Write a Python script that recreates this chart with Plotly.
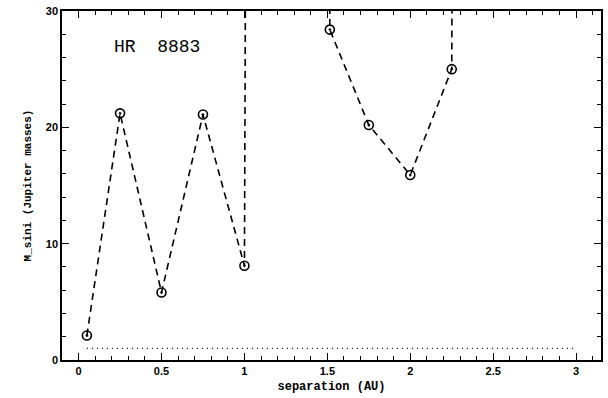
import plotly.graph_objects as go

# data (off-scale values drawn as near-vertical lines)
separation = [0.05, 0.25, 0.5, 0.75, 1.0, 1.25, 1.515, 1.75, 2.0, 2.25, 2.5]
msini = [2.1, 21.2, 5.8, 21.1, 8.1, 1000.0, 28.4, 20.2, 15.9, 25.0, 1000.0]
limit_x = [0.05, 3.0]
limit_y = [1.0, 1.0]
label = "HR\u00a0\u00a08883"

x_range = [-0.1, 3.15]
y_range = [0, 30]

fig = go.Figure()
# empty trace keeps the framed main axes in their own subplot
fig.add_trace(go.Scatter(x=[], y=[], xaxis="x", yaxis="y", showlegend=False, hoverinfo="skip"))
fig.add_trace(go.Scatter(
    x=limit_x, y=limit_y, mode="lines", xaxis="x2", yaxis="y2",
    line=dict(color="black", width=1.2, dash="1px,4px"),
    showlegend=False, hoverinfo="skip"))
fig.add_trace(go.Scatter(
    x=separation, y=msini, mode="lines+markers", xaxis="x2", yaxis="y2",
    line=dict(color="black", width=1.6, dash="7px,5px"),
    marker=dict(symbol="circle-open-dot", size=9, color="black",
                line=dict(width=1.6, color="black")),
    showlegend=False))

fig.add_annotation(x=0.2, y=26.9, xref="x", yref="y", text=label,
                   showarrow=False, xanchor="left", yanchor="middle",
                   font=dict(family="Liberation Mono", size=18, color="black"))

axis_common = dict(showline=True, linecolor="black", linewidth=1.5, mirror="allticks",
                   ticks="inside", tickcolor="black", tickwidth=1.2, ticklen=7,
                   showgrid=False, zeroline=False,
                   tickfont=dict(family="Liberation Sans", size=11, color="black", weight="bold"))

fig.update_layout(
    xaxis=dict(range=x_range, tick0=0, dtick=0.5,
               minor=dict(dtick=0.1, ticks="inside", ticklen=4),
               title=dict(text="separation (AU)", standoff=6,
                          font=dict(family="Liberation Mono", size=12, color="black", weight="bold")),
               **axis_common),
    yaxis=dict(range=y_range, tick0=0, dtick=10,
               minor=dict(dtick=2, ticks="inside", ticklen=4),
               title=dict(text="M_sini (Jupiter masses)", standoff=12,
                          font=dict(family="Liberation Mono", size=11, color="black", weight="bold")),
               **axis_common),
    xaxis2=dict(range=x_range, overlaying="x", anchor="y2", visible=False),
    yaxis2=dict(range=y_range, overlaying="y", anchor="x2", visible=False),
    width=608, height=398, margin=dict(l=62, r=5, t=9, b=38),
    plot_bgcolor="white", paper_bgcolor="white")
fig.write_html("out.html", post_script="document.body.style.margin='0';",
               config={"displayModeBar": False})
